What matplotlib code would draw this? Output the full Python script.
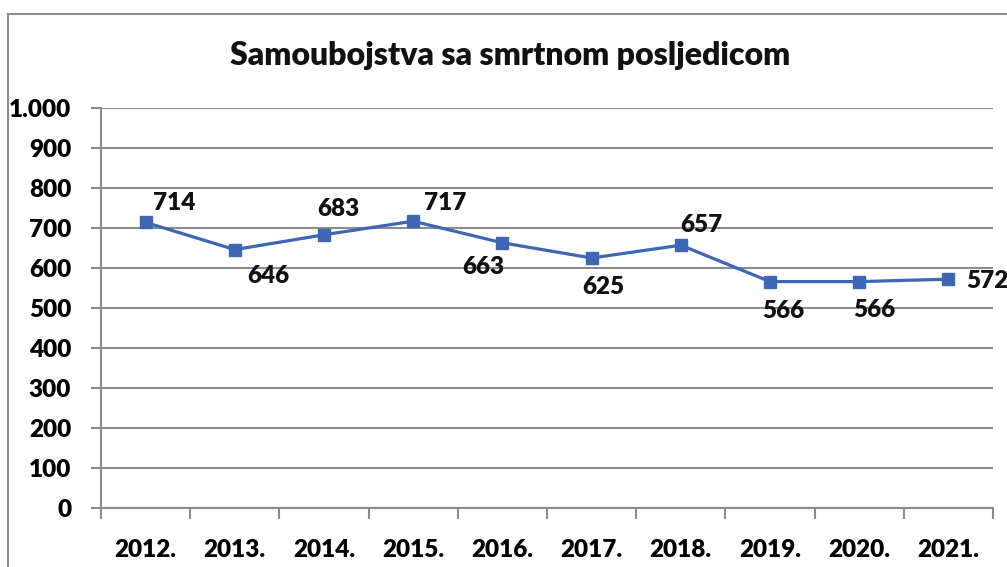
import matplotlib
matplotlib.use("Agg")
import matplotlib.pyplot as plt
from matplotlib.patches import Rectangle
from matplotlib.ticker import FixedLocator, FuncFormatter
from matplotlib import font_manager

years = ["2012.", "2013.", "2014.", "2015.", "2016.", "2017.", "2018.", "2019.", "2020.", "2021."]
values = [714, 646, 683, 717, 663, 625, 657, 566, 566, 572]
y_ticks = [0, 100, 200, 300, 400, 500, 600, 700, 800, 900, 1000]
# label offsets in pixels (dx, dy) relative to the point
label_offsets = [(29, 19), (34, -26), (14, 26), (32, 18), (-19, -24),
                 (12, -29), (21, 20), (13, -29), (15, -28), (39, -2)]

lato = sorted({(f.name, f.weight) for f in font_manager.fontManager.ttflist if "Lato" in f.name})
print(lato)

W, H = 1007, 567
fig = plt.figure(figsize=(W / 100, H / 100), dpi=100)
fig.patch.set_facecolor("white")

font = "Lato"
plt.rcParams["font.family"] = [font, "DejaVu Sans"]
WEIGHT = "heavy"

# chart border
fig.patches.append(Rectangle((7.5 / W, -0.1), 1.2, (H - 13.5) / H + 0.1,
                             transform=fig.transFigure, fill=False,
                             edgecolor="#8c8c8c", linewidth=1.5))

ax = fig.add_axes([101 / W, 59 / H, (993 - 101) / W, 400 / H])
xs = [i + 0.5 for i in range(len(values))]
ax.set_xlim(0, len(values))
ax.set_ylim(0, 1000)

grid_c = "#8c8c8c"
ax.yaxis.set_major_locator(FixedLocator(y_ticks))
ax.yaxis.set_major_formatter(FuncFormatter(lambda v, p: f"{int(v):,}".replace(",", ".")))
ax.grid(axis="y", color=grid_c, linewidth=1.5)
ax.set_axisbelow(True)

ax.xaxis.set_major_locator(FixedLocator(list(range(len(values) + 1))))
ax.xaxis.set_major_formatter(FuncFormatter(lambda v, p: ""))
ax.xaxis.set_minor_locator(FixedLocator(xs))
ax.set_xticklabels(years, minor=True)
ax.tick_params(axis="x", which="major", length=8, width=1.5, color=grid_c, direction="out")
ax.tick_params(axis="x", which="minor", length=0, pad=22, labelsize=17.5)
ax.tick_params(axis="y", length=7, width=1.5, color=grid_c, pad=14.5, labelsize=17.5)
for lab in ax.get_xticklabels(minor=True) + ax.get_yticklabels():
    lab.set_fontweight(WEIGHT)

for s in ["top", "right"]:
    ax.spines[s].set_visible(False)
for s in ["left", "bottom"]:
    ax.spines[s].set_color(grid_c)
    ax.spines[s].set_linewidth(1.5)

line_c = "#3d66b5"
ax.plot(xs, values, color=line_c, linewidth=2.3, marker="s", markersize=9,
        markerfacecolor=line_c, markeredgecolor=line_c, clip_on=False, zorder=3)

for x, v, (dx, dy) in zip(xs, values, label_offsets):
    ax.annotate(str(v), (x, v), xytext=(dx, dy), textcoords="offset pixels",
                ha="center", va="center", fontsize=17.5, fontweight=WEIGHT,
                color="#111111", annotation_clip=False)

fig.text(510 / W, 1 - 55 / H, "Samoubojstva sa smrtnom posljedicom",
         ha="center", va="center", fontsize=23, fontweight=WEIGHT, color="#111111")

fig.savefig("out.png", dpi=100)
